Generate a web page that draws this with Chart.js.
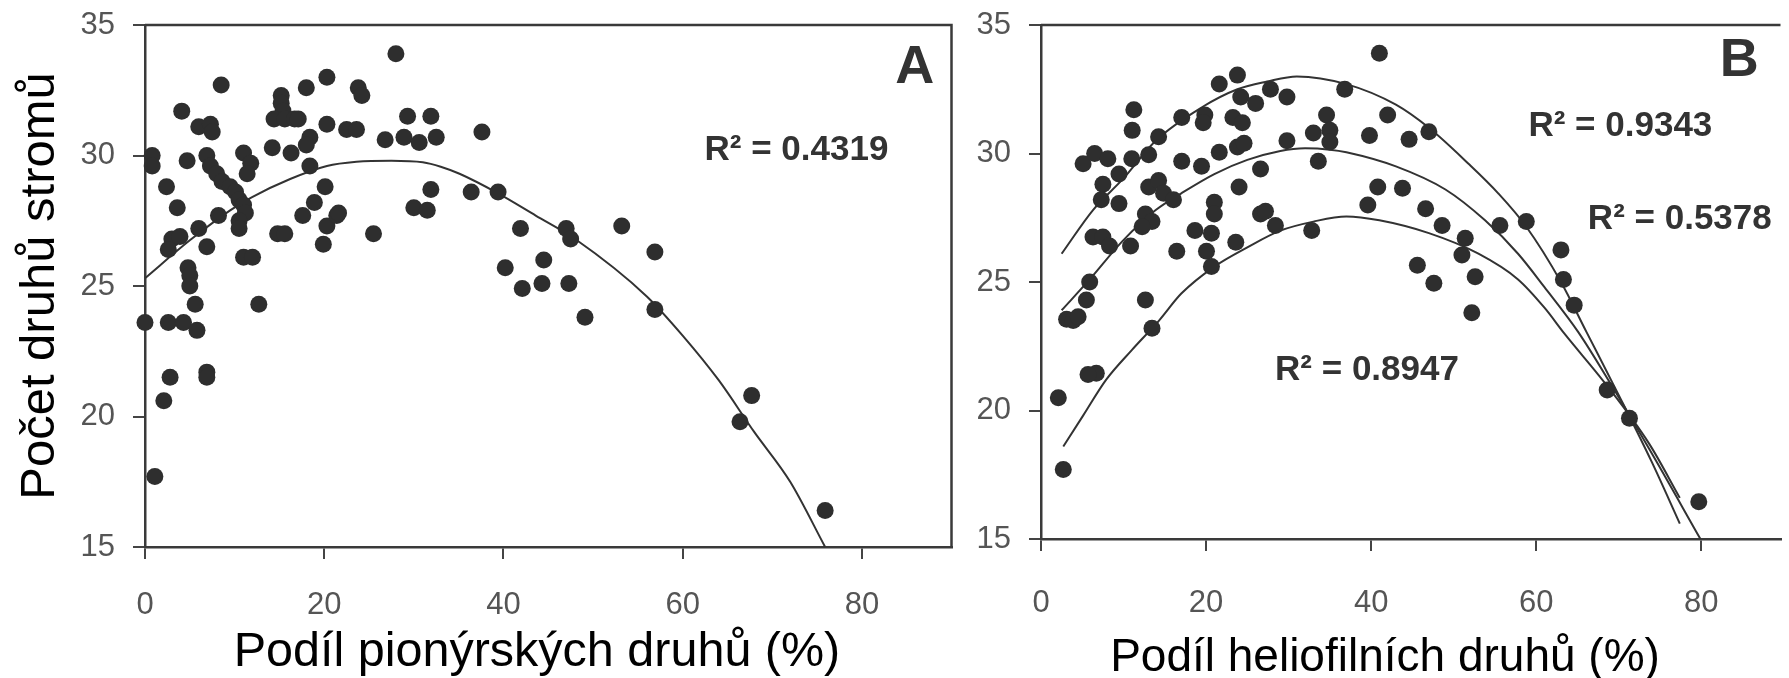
<!DOCTYPE html>
<html>
<head>
<meta charset="utf-8">
<script src="https://cdn.jsdelivr.net/npm/chart.js@4.4.0/dist/chart.umd.min.js"></script>
<style>
  html, body { margin: 0; padding: 0; background: #fff; overflow: hidden; }
  #wrap { position: relative; width: 1789px; height: 678px; }
  canvas { position: absolute; top: 0; }
  #chartA { left: 0; }
  #chartB { left: 960px; }
</style>
</head>
<body>
<div id="wrap">
  <canvas id="chartA" width="960" height="678"></canvas>
  <canvas id="chartB" width="829" height="678"></canvas>
</div>
<script>
// axis ticks
const shareTicks = [0, 20, 40, 60, 80];
const richnessTicks = [15, 20, 25, 30, 35];

// panel A - pioneer species share vs. tree species count
const pioneerShare = [0, 0.8, 0.8, 2.4, 3.6, 4.1, 4.7, 3.0, 2.6, 3.9,
  6.0, 6.9, 6.0, 7.3, 7.5, 8.5, 6.9, 7.3, 8.0, 8.6,
  9.5, 10.1, 10.5, 11.0, 11.2, 10.5, 10.5, 11.0, 11.8, 11.4,
  8.2, 4.8, 5.0, 5.0, 5.6, 11.0, 12.0, 12.7, 2.6, 4.3,
  5.8, 6.9, 6.9, 2.8, 2.1, 1.1, 14.2, 15.2, 15.2, 15.4,
  14.4, 15.6, 16.7, 17.1, 16.3, 18.0, 18.4, 18.0, 18.4, 20.3,
  20.3, 20.1, 18.9, 17.6, 14.8, 15.6, 20.3, 21.4, 21.6, 19.9,
  23.8, 24.2, 22.5, 23.6, 25.5, 28.0, 26.8, 28.9, 29.3, 30.6,
  31.9, 32.5, 30.0, 31.5, 31.9, 36.4, 37.6, 39.4, 41.9, 40.2,
  42.1, 44.3, 44.5, 47.0, 47.5, 47.3, 49.1, 53.2, 56.9, 56.9,
  67.7, 66.4, 75.9];
const pioneerRichness = [23.6, 30.0, 29.6, 28.8, 28.0, 31.7, 29.8, 26.8, 26.4, 26.9,
  27.2, 26.5, 31.1, 31.2, 30.9, 32.7, 30.0, 29.6, 29.3, 29.0,
  28.8, 28.6, 28.3, 28.1, 27.8, 27.5, 27.2, 30.1, 29.7, 29.3,
  27.7, 25.7, 25.4, 25.0, 24.3, 26.1, 26.1, 24.3, 23.6, 23.6,
  23.3, 21.7, 21.5, 21.5, 20.6, 17.7, 30.3, 32.3, 32.0, 31.7,
  31.4, 31.4, 31.4, 31.4, 30.1, 32.6, 30.7, 30.4, 29.6, 33.0,
  31.2, 28.8, 28.2, 27.7, 27.0, 27.0, 27.3, 27.7, 27.8, 26.6,
  32.6, 32.3, 31.0, 31.0, 27.0, 33.9, 30.6, 30.7, 31.5, 30.5,
  31.5, 30.7, 28.0, 27.9, 28.7, 28.6, 30.9, 28.6, 27.2, 25.7,
  24.9, 25.1, 26.0, 27.2, 26.8, 25.1, 23.8, 27.3, 26.3, 24.1,
  20.8, 19.8, 16.4];
const pioneerFitX = [0, 5, 9.5, 11.9, 16.2, 20.3, 23.6, 27.5, 31, 33, 35.1, 39.4, 43.6, 48, 56, 60, 64, 68, 72, 75.9];
const pioneerFitY = [25.3, 26.75, 27.9, 28.4, 29.1, 29.6, 29.76, 29.8, 29.74, 29.57, 29.3, 28.55, 27.7, 26.8, 24.6, 23.1, 21.4, 19.4, 17.5, 15.0];
const pioneerR2 = '0.4319';

// panel B - heliophilous species share vs. tree species count
const helioShare = [41.0, 23.8, 21.6, 24.2, 26.0, 27.8, 29.8, 36.8, 42.0, 39.8,
  11.25, 11.05, 17.05, 19.85, 19.65, 23.25, 24.4, 14.25, 13.05, 11.0,
  9.45, 5.1, 6.5, 8.1, 7.5, 7.3, 9.45, 17.05, 19.45, 21.6,
  23.8, 24.6, 29.8, 33.0, 34.6, 35.0, 35.0, 33.6, 26.6, 24.0,
  40.8, 39.6, 13.05, 14.25, 14.85, 16.05, 12.65, 13.45, 12.25, 6.3,
  7.5, 8.3, 10.85, 16.45, 18.65, 20.65, 21.0, 21.0, 20.05, 20.65,
  23.6, 26.6, 27.2, 28.4, 32.8, 5.9, 5.5, 3.1, 3.9, 4.5,
  12.65, 13.45, 6.7, 5.7, 2.1, 2.7, 44.6, 47.0, 43.8, 46.6,
  48.6, 51.4, 51.0, 45.6, 47.6, 52.6, 52.2, 55.6, 58.8, 63.0,
  63.3, 64.6, 68.6, 71.3, 79.7];
const helioRichness = [33.9, 33.05, 32.7, 32.2, 31.95, 32.5, 32.2, 32.5, 31.5, 30.7,
  31.7, 30.9, 31.4, 31.5, 31.2, 31.4, 31.2, 30.65, 29.95, 29.8,
  29.2, 29.6, 30.0, 29.8, 28.8, 28.2, 28.05, 29.7, 29.5, 30.05,
  30.25, 30.4, 30.5, 30.8, 31.5, 30.9, 30.45, 29.7, 29.4, 28.7,
  28.7, 28.0, 28.7, 28.95, 28.45, 28.2, 27.65, 27.35, 27.15, 26.75,
  26.75, 26.4, 26.4, 26.2, 27.0, 26.9, 28.1, 27.65, 26.2, 25.6,
  26.55, 27.65, 27.75, 27.2, 27.0, 25.0, 24.3, 23.55, 23.5, 23.65,
  24.3, 23.2, 21.45, 21.4, 20.5, 17.7, 30.55, 30.85, 28.65, 27.85,
  27.2, 26.7, 26.05, 25.65, 24.95, 25.2, 23.8, 27.2, 27.35, 26.25,
  25.1, 24.1, 20.8, 19.7, 16.45];
const helioUpperX = [2.5, 6.3, 9.9, 13.9, 19.5, 23.8, 27.4, 31, 37, 43, 47, 51.8, 55.4, 58.8, 63, 66.1, 70, 74, 77.4];
const helioUpperY = [26.1, 27.8, 29.0, 30.5, 31.8, 32.5, 32.8, 33.0, 32.7, 31.9, 31.0, 29.6, 28.45, 27.15, 25.0, 23.05, 20.6, 18.0, 15.6];
const helioMiddleX = [2.5, 5.9, 9.9, 13.9, 17, 21, 25, 29, 32, 35, 37, 43, 49, 53.8, 57.8, 61, 65.1, 68.9, 73.7, 79.9];
const helioMiddleY = [23.9, 25.1, 26.6, 27.8, 28.45, 29.2, 29.75, 30.1, 30.2, 30.15, 30.05, 29.5, 28.6, 27.4, 26.1, 24.8, 23.05, 21.1, 18.5, 15.0];
const helioLowerX = [2.7, 5.1, 7.9, 11, 14.3, 17, 21, 25, 29, 33, 37, 41, 47, 53, 57.8, 61, 63.4, 68.5, 73.7, 77.4];
const helioLowerY = [18.6, 19.8, 21.2, 22.35, 23.5, 24.55, 25.6, 26.35, 27.0, 27.35, 27.55, 27.4, 26.9, 26.1, 25.1, 24.0, 23.0, 21.0, 18.7, 16.6];
const helioR2 = ['0.9343', '0.5378', '0.8947'];

Chart.defaults.font.family = "'Liberation Sans', Arial, sans-serif";
Chart.defaults.color = '#555';

const ink = '#2e2e2e';
const toPoints = (xs, ys) => xs.map((x, i) => ({ x: x, y: ys[i] }));

function dots(xs, ys) {
  return {
    data: toPoints(xs, ys),
    pointRadius: 8.5,
    pointBackgroundColor: ink,
    pointBorderWidth: 0,
    clip: 12
  };
}

function fit(xs, ys) {
  return {
    data: toPoints(xs, ys),
    showLine: true,
    borderColor: '#333',
    borderWidth: 2,
    pointRadius: 0,
    cubicInterpolationMode: 'monotone',
    clip: 4
  };
}

// top border (and right border for panel A) + free texts
function panelDecor(items, withRight) {
  return {
    id: 'panelDecor',
    afterDraw(chart) {
      const { ctx, chartArea: a, scales } = chart;
      ctx.save();
      ctx.strokeStyle = '#3a3a3a';
      ctx.lineWidth = 2.5;
      ctx.beginPath();
      ctx.moveTo(a.left, a.top);
      ctx.lineTo(a.right, a.top);
      if (withRight) ctx.lineTo(a.right, a.bottom);
      ctx.stroke();
      for (const t of items) {
        const px = t.at ? scales.x.getPixelForValue(t.at[0]) : t.px[0];
        const py = t.at ? scales.y.getPixelForValue(t.at[1]) : t.px[1];
        ctx.font = t.font;
        ctx.fillStyle = t.color;
        ctx.textAlign = 'center';
        ctx.textBaseline = 'middle';
        ctx.fillText(t.text, px, py);
      }
      ctx.restore();
    }
  };
}

function noPad(s) {
  s.paddingTop = 0; s.paddingBottom = 0; s.paddingLeft = 0; s.paddingRight = 0;
}

function panel(id, datasets, cfg, items) {
  return new Chart(document.getElementById(id), {
    type: 'scatter',
    data: { datasets: datasets },
    options: {
      responsive: false,
      animation: false,
      events: [],
      layout: { padding: { left: 0, top: 25, right: cfg.padRight, bottom: 0 } },
      plugins: { legend: { display: false }, tooltip: { enabled: false } },
      scales: {
        x: {
          type: 'linear',
          min: 0,
          max: cfg.xMax,
          afterBuildTicks: s => { s.ticks = shareTicks.map(v => ({ value: v })); },
          afterFit: s => { s.height = cfg.xAxisHeight; noPad(s); },
          ticks: { color: '#555', font: { size: 31 }, padding: cfg.xTickPad },
          grid: { drawOnChartArea: false, drawTicks: true, tickLength: 12, color: '#444', lineWidth: 2 },
          border: { display: true, color: '#3a3a3a', width: 2.5 }
        },
        y: {
          type: 'linear',
          min: 15,
          max: 35,
          afterBuildTicks: s => { s.ticks = richnessTicks.map(v => ({ value: v })); },
          afterFit: s => { s.width = cfg.yAxisWidth; noPad(s); },
          ticks: { color: '#555', font: { size: 31 }, padding: 18 },
          grid: { drawOnChartArea: false, drawTicks: true, tickLength: 12, color: '#444', lineWidth: 2 },
          border: { display: true, color: '#3a3a3a', width: 2.5 },
          title: cfg.yTitle
        }
      }
    },
    plugins: [panelDecor(items, cfg.rightBorder)]
  });
}

const r2Font = "bold 35px 'Liberation Sans', Arial, sans-serif";
const letterFont = "bold 54px 'Liberation Sans', Arial, sans-serif";

panel('chartA',
  [dots(pioneerShare, pioneerRichness), fit(pioneerFitX, pioneerFitY)],
  {
    xMax: 90, padRight: 8, xAxisHeight: 131, yAxisWidth: 145, xTickPad: 28, rightBorder: true,
    yTitle: { display: true, text: 'Počet druhů stromů', color: '#000', font: { size: 49 }, padding: { top: 11, bottom: 0 } }
  },
  [
    { text: 'A', at: [85.9, 33.35], font: letterFont, color: '#333' },
    { text: 'R² = ' + pioneerR2, at: [72.7, 30.2], font: r2Font, color: '#333' },
    { text: 'Podíl pionýrských druhů (%)', px: [537, 653], font: "48.5px 'Liberation Sans', Arial, sans-serif", color: '#000' }
  ]);

panel('chartB',
  [dots(helioShare, helioRichness), fit(helioUpperX, helioUpperY), fit(helioMiddleX, helioMiddleY), fit(helioLowerX, helioLowerY)],
  {
    xMax: 89.6, padRight: 0, xAxisHeight: 139, yAxisWidth: 81, xTickPad: 34, rightBorder: false,
    yTitle: { display: false }
  },
  [
    { text: 'B', at: [84.6, 33.6], font: letterFont, color: '#333' },
    { text: 'R² = ' + helioR2[0], at: [70.2, 31.07], font: r2Font, color: '#333' },
    { text: 'R² = ' + helioR2[1], at: [77.4, 27.45], font: r2Font, color: '#333' },
    { text: 'R² = ' + helioR2[2], at: [39.5, 21.58], font: r2Font, color: '#333' },
    { text: 'Podíl heliofilních druhů (%)', px: [425, 658], font: "46px 'Liberation Sans', Arial, sans-serif", color: '#000' }
  ]);
</script>
</body>
</html>
